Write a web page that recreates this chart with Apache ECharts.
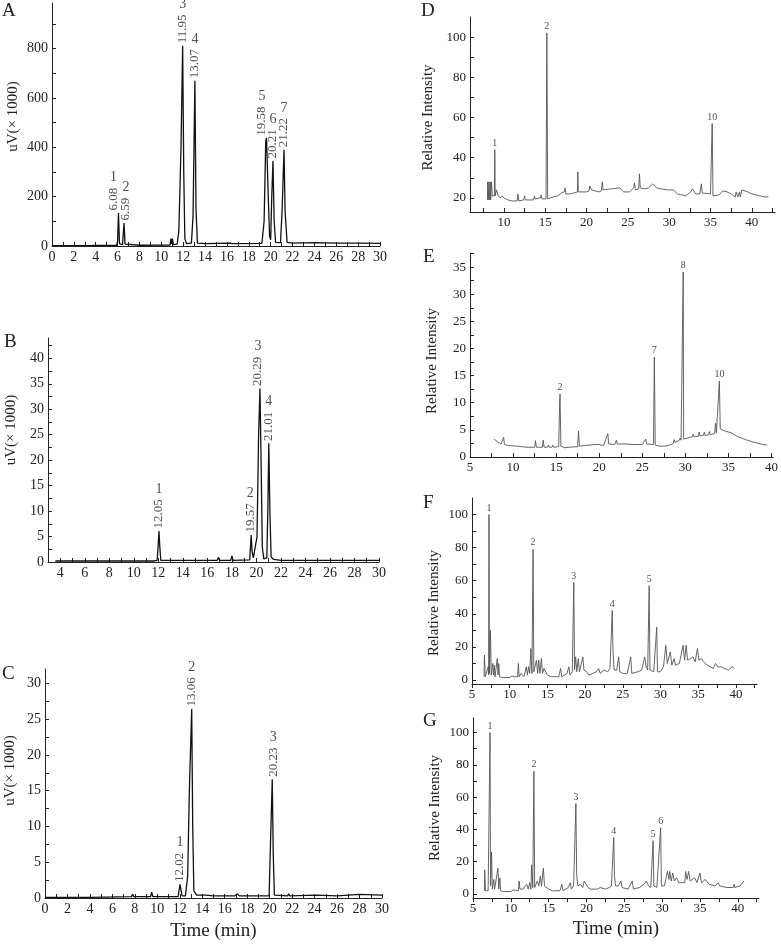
<!DOCTYPE html>
<html><head><meta charset="utf-8">
<script src="https://cdn.jsdelivr.net/npm/echarts@6/dist/echarts.min.js"></script>
<style>html,body{margin:0;padding:0;background:#fff}#c{width:781px;height:944px}</style>
</head><body><div id="c"></div>
<script>
// ---------------- DATA ----------------
// Panel A (HPLC, uV x1000 vs min)
const chromA = [[0,1.5],[3.5,1.5],[3.65,6],[3.75,2],[3.9,7],[4.05,2],[5.9,2],[6.0,20],[6.08,134],[6.17,10],[6.3,4],[6.45,5],[6.59,93],[6.68,8],[6.85,3],[8.0,3],[8.05,6],[8.1,3],[10.8,4],[10.88,30],[10.95,8],[11.02,30],[11.1,6],[11.45,8],[11.6,60],[11.8,400],[11.95,812],[12.05,300],[12.15,30],[12.3,10],[12.75,12],[12.9,120],[13.07,670],[13.17,150],[13.3,12],[14,10],[16.3,12],[16.5,10],[19.2,11],[19.4,100],[19.55,425],[19.62,438],[19.78,200],[19.9,40],[20.0,25],[20.1,200],[20.21,345],[20.32,100],[20.45,15],[20.9,14],[21.05,150],[21.22,390],[21.32,140],[21.5,15],[22,12],[24,14],[26,12],[28,12],[30,11]];
const peakTimesA = [6.08, 6.59, 11.95, 13.07, 19.58, 20.21, 21.22];
const peakHeightsA = [134, 93, 812, 670, 437, 345, 390];
const peakIdsA = ['1','2','3','4','5','6','7'];

// Panel B
const chromB = [[3.6,0.2],[6.3,0.2],[6.4,0.5],[6.5,0.2],[11.4,0.2],[11.5,0.5],[11.6,0.2],[11.9,0.3],[11.98,3],[12.05,6.1],[12.12,3],[12.2,0.3],[16.8,0.3],[16.9,0.9],[17.0,0.3],[17.9,0.3],[18.0,1.2],[18.1,0.3],[19.45,0.4],[19.52,3],[19.57,5.3],[19.65,2],[19.75,0.8],[19.9,0.7],[20.05,5],[20.18,25],[20.29,34.1],[20.38,20],[20.48,3],[20.6,0.6],[20.85,0.8],[20.93,10],[21.01,23.3],[21.1,10],[21.2,1],[21.4,0.5],[22,0.3],[23.2,0.3],[23.3,0.5],[23.4,0.3],[26.1,0.3],[26.2,0.5],[26.3,0.3],[30,0.3]];
const peakTimesB = [12.05, 19.57, 20.29, 21.01];
const peakHeightsB = [6.1, 5.3, 34.1, 23.3];
const peakIdsB = ['1','2','3','4'];

// Panel C
const chromC = [[0,0.1],[3.9,0.1],[4.0,0.3],[4.1,0.1],[7.7,0.2],[7.8,0.5],[7.9,0.2],[9.4,0.2],[9.5,0.8],[9.6,0.2],[11.85,0.2],[11.95,1.2],[12.02,1.9],[12.1,1.2],[12.2,0.3],[12.5,0.3],[12.7,3],[12.85,15],[13.06,26.4],[13.15,10],[13.25,1],[13.5,0.4],[14.3,0.4],[15,0.3],[16.9,0.3],[17.1,0.6],[17.3,0.3],[19.95,0.3],[20.08,8],[20.23,16.6],[20.32,6],[20.42,0.4],[21.6,0.3],[21.7,0.6],[21.8,0.3],[24.2,0.4],[26,0.3],[28,0.5],[30,0.4]];
const peakTimesC = [12.02, 13.06, 20.23];
const peakHeightsC = [1.9, 26.4, 16.6];
const peakIdsC = ['1','2','3'];

// Panel D (relative intensity)
const chromD = [[8.0,19],[8.05,28],[8.1,19],[8.2,28],[8.25,19],[8.35,28],[8.4,19],[8.5,28],[8.6,21],[8.85,21],[8.9,44],[8.95,21],[9.1,24],[9.3,21],[9.6,20],[9.8,21],[10,20],[10.5,19],[11,18.5],[11.6,18.5],[11.7,22],[11.8,18.5],[12.4,19],[12.5,21],[12.6,19],[13.0,19],[13.6,19],[13.7,21],[13.8,19.5],[14.4,20],[14.5,21.5],[14.6,19.5],[15.1,19.5],[15.2,102],[15.3,19.5],[16,20.5],[16.5,21],[17,22.5],[17.3,23],[17.4,25],[17.5,22],[18,22],[18.5,22.5],[18.9,23],[18.95,33],[19.0,23],[20,23],[20.3,23.5],[20.4,26],[20.6,24],[21.5,23],[21.8,23.5],[21.9,28],[22,24],[23,24.5],[24,25],[24.5,23],[25.2,23],[25.7,25],[25.8,27.5],[25.9,24],[26.3,24.5],[26.4,32],[26.5,25],[27,24.5],[27.5,25],[28,27],[28.5,25],[29,24.5],[29.8,24],[30,24.5],[30.5,24],[31,22],[32,21],[32.6,23],[32.8,24.5],[33.2,22],[33.7,22],[33.8,25],[33.9,27],[34.0,22.5],[35.0,22],[35.1,21.5],[35.2,57],[35.3,21],[36,21.5],[36.5,23.5],[37,23],[37.5,22],[38,20.5],[38.1,23],[38.3,20.5],[38.5,23],[38.6,20.5],[38.8,24],[39.5,23],[40,22],[40.5,21.5],[41,21],[41.5,20.5],[42,20.5]];
const peakTimesD = [8.9, 15.2, 35.2];
const peakHeightsD = [44, 102, 57];
const peakIdsD = ['1','2','10'];

// Panel E
const chromE = [[7.8,3.3],[8.2,2.8],[8.6,2.4],[8.9,3.6],[9.0,2.3],[9.5,2.1],[10.5,2],[11.5,1.8],[12.5,1.8],[12.6,3],[12.7,1.8],[13.4,1.8],[13.5,3.1],[13.6,1.8],[14.0,1.8],[14.1,2.2],[14.2,1.8],[14.5,1.8],[14.6,2.2],[14.7,1.8],[15.3,1.9],[15.4,9.5],[15.45,11.6],[15.55,2],[16,1.7],[16.5,1.8],[17.5,1.9],[17.6,4.8],[17.7,2],[18.3,2.1],[18.4,2.4],[18.5,2.1],[19.5,2.3],[20,2.3],[20.5,2.1],[21.0,4.3],[21.1,2.4],[21.8,2.3],[22.0,3.1],[22.1,2.4],[23,2.4],[24,2.3],[25,2.3],[25.4,3.3],[25.5,2.4],[26.3,2.3],[26.4,18.4],[26.5,2.2],[27,2],[27.5,2],[28,2.1],[28.6,2.5],[28.7,3.2],[28.8,2.7],[29.3,3.1],[29.4,3.5],[29.5,3.1],[29.7,3.2],[29.75,34.1],[29.8,3.3],[30.5,3.6],[30.8,3.7],[30.9,4.2],[31.0,3.8],[31.5,3.8],[31.6,4.6],[31.7,3.9],[32.1,4.0],[32.2,4.6],[32.3,4.0],[32.7,4.1],[32.8,4.7],[32.9,4.1],[33.4,4.3],[33.5,6.2],[33.6,4.4],[33.8,4.5],[33.95,14.0],[34.05,5.2],[34.4,4.9],[34.5,5.1],[34.6,4.7],[35,4.6],[35.2,4.4],[35.3,4.5],[35.4,4.2],[36,3.8],[37,3.2],[38,2.7],[39,2.3],[39.5,2.2]];
const peakTimesE = [15.45, 26.4, 29.75, 33.95];
const peakHeightsE = [11.6, 18.4, 34.1, 14.0];
const peakIdsE = ['2','7','8','10'];

// Panel F
const chromF = [[6.6,2],[6.65,15],[6.75,2],[7.0,2],[7.15,8],[7.2,3],[7.25,100],[7.32,4],[7.45,30],[7.55,3],[7.75,10],[7.85,3],[7.95,9],[8.05,2],[8.35,13],[8.45,3],[8.55,10],[8.65,2],[9,1.5],[10,1.5],[10.3,2.5],[10.6,2],[11.05,2],[11.15,10],[11.25,2],[11.5,4],[11.7,5],[11.9,2],[12.2,8],[12.35,3],[12.5,8],[12.65,4],[12.8,19],[12.95,4],[13.1,79],[13.2,5],[13.55,12],[13.7,4],[13.85,12],[14.0,4],[14.2,13],[14.35,4],[14.55,7],[14.8,7],[15.0,3],[15.5,2],[16.5,2],[16.75,7],[16.9,2],[17.6,4],[17.85,8],[18.0,3],[18.3,5],[18.5,59],[18.6,6],[18.75,14],[18.9,5],[19.1,13],[19.25,5],[19.7,14],[19.85,6],[20.2,5],[20.5,3],[21,4],[21.5,5],[21.8,7],[22,4],[22.5,6],[23,5],[23.3,7],[23.6,42],[23.7,18],[23.85,6],[24.2,6],[24.45,14],[24.6,5],[25,4],[25.6,4],[26.05,14],[26.2,4],[27,5],[27.5,6],[27.9,14],[28.1,8],[28.3,6],[28.5,57],[28.6,6],[29.1,5],[29.5,32],[29.6,5],[30.0,5],[30.4,8],[30.7,21],[30.9,10],[31.3,17],[31.5,9],[31.8,13],[32.0,9],[32.5,10],[33.0,21],[33.2,12],[33.4,21],[33.6,12],[34.0,13],[34.3,14],[34.6,11],[34.9,19],[35.1,12],[35.4,13],[35.7,11],[36.2,9],[37,7],[37.3,10],[37.6,8],[38,8],[38.5,7],[39,6],[39.5,8],[39.8,7]];
const peakTimesF = [7.25, 13.1, 18.5, 23.6, 28.5];
const peakHeightsF = [100, 79, 59, 42, 57];
const peakIdsF = ['1','2','3','4','5'];

// Panel G
const chromG = [[6.5,2],[6.55,15],[6.65,2],[7.0,2],[7.25,100],[7.32,5],[7.45,26],[7.55,3],[7.75,9],[7.85,3],[8.3,16],[8.4,3],[8.55,10],[8.65,2],[9,1.5],[10,1.5],[10.3,2.5],[11,2],[11.1,8],[11.2,3],[11.6,3],[12.1,6],[12.3,3],[12.5,7],[12.65,3],[12.75,18],[12.9,4],[13.05,76],[13.15,4],[13.5,8],[13.7,5],[13.9,11],[14.05,5],[14.3,16],[14.45,5],[14.7,6],[15.0,3],[15.5,2],[16.5,2],[16.75,6],[16.9,2],[17.6,4],[17.85,7],[18.0,3],[18.3,5],[18.6,56],[18.7,12],[18.85,5],[19.2,6],[19.5,4],[19.7,8],[19.9,7],[20.2,4],[20.5,3],[21.5,3],[21.8,4],[22.5,3],[23,4],[23.3,5],[23.6,35],[23.7,11],[23.85,5],[24.2,5],[24.55,8],[24.7,4],[25.5,3],[26.05,8],[26.2,3],[27,4],[27.6,6],[27.9,8],[28.2,5],[28.5,4],[28.8,33],[28.9,5],[29.3,4],[29.8,41],[29.9,5],[30.3,5],[30.7,14],[30.9,9],[31.0,14],[31.2,8],[31.4,13],[31.6,8],[31.9,10],[32.2,7],[33,7],[33.1,14],[33.3,9],[33.5,14],[33.7,8],[34.3,10],[34.6,7],[35.0,13],[35.2,7],[35.7,9],[36.2,6],[37,5],[37.4,7],[37.6,5],[38.5,4],[39.4,4],[39.5,6],[39.6,4],[40.3,5],[40.8,8]];
const peakTimesG = [7.25, 13.05, 18.6, 23.6, 28.8, 29.8];
const peakHeightsG = [100, 76, 56, 35, 33, 41];
const peakIdsG = ['1','2','3','4','5','6'];

// Tick labels
const xLabelsAC = [0,2,4,6,8,10,12,14,16,18,20,22,24,26,28,30];
const xLabelsB = [4,6,8,10,12,14,16,18,20,22,24,26,28,30];
const yLabelsA = [0,200,400,600,800];
const yLabelsB = [0,5,10,15,20,25,30,35,40];
const yLabelsC = [0,5,10,15,20,25,30];
const xLabelsD = [10,15,20,25,30,35,40];
const xLabelsEFG = [5,10,15,20,25,30,35,40];
const yLabelsD = [20,40,60,80,100];
const yLabelsE = [0,5,10,15,20,25,30,35];
const yLabelsFG = [0,20,40,60,80,100];

// ---------------- BUILD ----------------
function steps(a, b, s) { const r = []; for (let v = a; v <= b + 1e-9; v += s) r.push(+v.toFixed(4)); return r; }
const SERIF = '"Liberation Serif","DejaVu Serif",serif';
const INK = '#222';
const ctx = document.createElement('canvas').getContext('2d');
function textW(t, size) { ctx.font = size + 'px "Liberation Serif"'; return ctx.measureText(t).width; }

const panels = [
  { letter:'A', data:chromA, times:peakTimesA, heights:peakHeightsA, ids:peakIdsA, rotated:true, labelDx:[-5,2,0,0,-4,0,0],
    grid:{left:52, top:3, width:328, height:243}, xMin:0, xMax:30, xLabels:xLabelsAC, xTicks:steps(0,30,1),
    yMin:0, yMax:985, yLabels:yLabelsA, yTicks:steps(0,900,100), yName:'uV(× 1000)', yGap:31, yShift:16, tickInside:true,
    lbl:{left:2, top:2}, color:'#111', lw:1.3, fs:14 },
  { letter:'B', data:chromB, times:peakTimesB, heights:peakHeightsB, ids:peakIdsB, rotated:true, labelDx:[0,-1,-2,0],
    grid:{left:48, top:338, width:331, height:224}, xMin:3, xMax:30, xLabels:xLabelsB, xTicks:steps(4,30,1),
    yMin:0, yMax:44, yLabels:yLabelsB, yTicks:steps(0,42.5,2.5), yName:'uV(× 1000)', yGap:29, yShift:40, tickInside:true,
    lbl:{left:4, top:333}, color:'#111', lw:1.3, fs:14 },
  { letter:'C', data:chromC, times:peakTimesC, heights:peakHeightsC, ids:peakIdsC, rotated:true, labelDx:[0,0,1],
    grid:{left:45, top:669, width:337, height:229}, xMin:0, xMax:30, xLabels:xLabelsAC, xTicks:steps(0,30,1),
    yMin:0, yMax:32, yLabels:yLabelsC, yTicks:steps(0,30,2.5), yName:'uV(× 1000)', yGap:27, yShift:26, tickInside:true,
    xName:'Time (min)', xGap:24, lbl:{left:2, top:665}, color:'#111', lw:1.3, fs:14 },
  { letter:'D', data:chromD, times:peakTimesD, heights:peakHeightsD, ids:peakIdsD, rotated:false,
    grid:{left:470, top:17, width:305, height:195}, xMin:5.9, xMax:42.8, xLabels:xLabelsD, xTicks:steps(7.5,42.5,2.5),
    yMin:13, yMax:110, yLabels:yLabelsD, yTicks:steps(20,100,10), yName:'Relative Intensity', yGap:34, yShift:-6, tickInside:true,
    lbl:{left:421, top:2}, color:'#555', lw:0.9, fs:13 },
  { letter:'E', data:chromE, times:peakTimesE, heights:peakHeightsE, ids:peakIdsE, rotated:false,
    grid:{left:470, top:253, width:305, height:204}, xMin:5, xMax:40.2, xLabels:xLabelsEFG, xTicks:steps(7.5,40,2.5),
    yMin:0, yMax:37.6, yLabels:yLabelsE, yTicks:steps(0,37.5,2.5), yName:'Relative Intensity', yGap:30, yShift:-12, tickInside:true,
    lbl:{left:423, top:248}, color:'#555', lw:0.9, fs:13 },
  { letter:'F', data:chromF, times:peakTimesF, heights:peakHeightsF, ids:peakIdsF, rotated:false,
    grid:{left:472, top:498, width:285, height:186}, xMin:5, xMax:42.8, xLabels:xLabelsEFG, xTicks:steps(5,42.5,2.5),
    yMin:-2.4, yMax:110, yLabels:yLabelsFG, yTicks:steps(0,100,10), yName:'Relative Intensity', yGap:30, yShift:-24, tickInside:false,
    lbl:{left:423, top:494}, color:'#555', lw:0.9, fs:13 },
  { letter:'G', data:chromG, times:peakTimesG, heights:peakHeightsG, ids:peakIdsG, rotated:false,
    grid:{left:473, top:718, width:286, height:180}, xMin:5, xMax:42.8, xLabels:xLabelsEFG, xTicks:steps(5,42.5,2.5),
    yMin:-2.5, yMax:109, yLabels:yLabelsFG, yTicks:steps(0,100,10), yName:'Relative Intensity', yGap:30, yShift:0, tickInside:false,
    xName:'Time (min)', xGap:22, lbl:{left:423, top:712}, color:'#555', lw:0.9, fs:13 }
];

const option = { animation:false, backgroundColor:'#fff', title:[], grid:[], xAxis:[], yAxis:[], series:[] };
const axisLineStyle = { color:INK, width:1 };

panels.forEach((p, i) => {
  const pxPerUnit = p.grid.width / (p.xMax - p.xMin);
  option.title.push({ text:p.letter, left:p.lbl.left, top:p.lbl.top, padding:0,
    textStyle:{ fontFamily:SERIF, fontSize:19, fontWeight:'normal', color:INK } });
  option.grid.push(Object.assign({ containLabel:false }, p.grid));
  option.xAxis.push({ type:'value', gridIndex:i, min:p.xMin, max:p.xMax,
    axisLine:{ onZero:false, lineStyle:axisLineStyle },
    axisTick:{ inside:p.tickInside, length:4, customValues:p.xTicks, lineStyle:axisLineStyle },
    axisLabel:{ customValues:p.xLabels, margin:4, fontFamily:SERIF, fontSize:p.fs, color:INK },
    splitLine:{ show:false },
    name:p.xName || '', nameLocation:'middle', nameGap:p.xGap || 20,
    nameTextStyle:{ fontFamily:SERIF, fontSize:19, color:INK } });
  const sh = p.yShift || 0;
  option.yAxis.push({ type:'value', gridIndex:i, min:p.yMin, max:p.yMax,
    axisLine:{ onZero:false, lineStyle:axisLineStyle },
    axisTick:{ inside:true, length:4, customValues:p.yTicks, lineStyle:axisLineStyle },
    axisLabel:{ customValues:p.yLabels, margin:4, fontFamily:SERIF, fontSize:p.fs, color:INK },
    splitLine:{ show:false },
    name:p.yName, nameLocation:'middle', nameGap:p.yGap,
    nameTextStyle:{ fontFamily:SERIF, fontSize:15, color:INK,
      padding: sh >= 0 ? [0,0,0,sh] : [0,-sh,0,0] } });
  option.series.push({ type:'line', xAxisIndex:i, yAxisIndex:i, data:p.data, showSymbol:false,
    symbol:'none', lineStyle:{ color:p.color, width:p.lw }, silent:true, z:2 });

  if (p.rotated) {
    const fsT = 13, fsN = 14;
    const dx = (k) => ((p.labelDx && p.labelDx[k]) || 0) / pxPerUnit;
    option.series.push({ type:'scatter', xAxisIndex:i, yAxisIndex:i, symbolSize:1, silent:true, z:3,
      itemStyle:{ color:'rgba(0,0,0,0)' },
      data:p.times.map((t, k) => ({ value:[t + dx(k), p.heights[k]], name:t.toFixed(2) })),
      label:{ show:true, position:'top', distance:2, rotate:90, align:'left', verticalAlign:'middle',
        formatter:(q) => q.name, fontFamily:SERIF, fontSize:fsT, color:INK } });
    option.series.push({ type:'scatter', xAxisIndex:i, yAxisIndex:i, symbolSize:1, silent:true, z:3,
      itemStyle:{ color:'rgba(0,0,0,0)' },
      data:p.times.map((t, k) => ({ value:[t + dx(k), p.heights[k]], name:p.ids[k],
        label:{ distance: 2 + textW(t.toFixed(2), fsT) + 3 } })),
      label:{ show:true, position:'top', formatter:(q) => q.name, fontFamily:SERIF, fontSize:fsN, color:INK } });
  } else {
    option.series.push({ type:'scatter', xAxisIndex:i, yAxisIndex:i, symbolSize:1, silent:true, z:3,
      itemStyle:{ color:'rgba(0,0,0,0)' },
      data:p.times.map((t, k) => ({ value:[t, p.heights[k]], name:p.ids[k] })),
      label:{ show:true, position:'top', distance:1, formatter:(q) => q.name, fontFamily:SERIF, fontSize:10, color:INK } });
  }
});

const chart = echarts.init(document.getElementById('c'), null, { renderer:'canvas' });
chart.setOption(option);
</script></body></html>
